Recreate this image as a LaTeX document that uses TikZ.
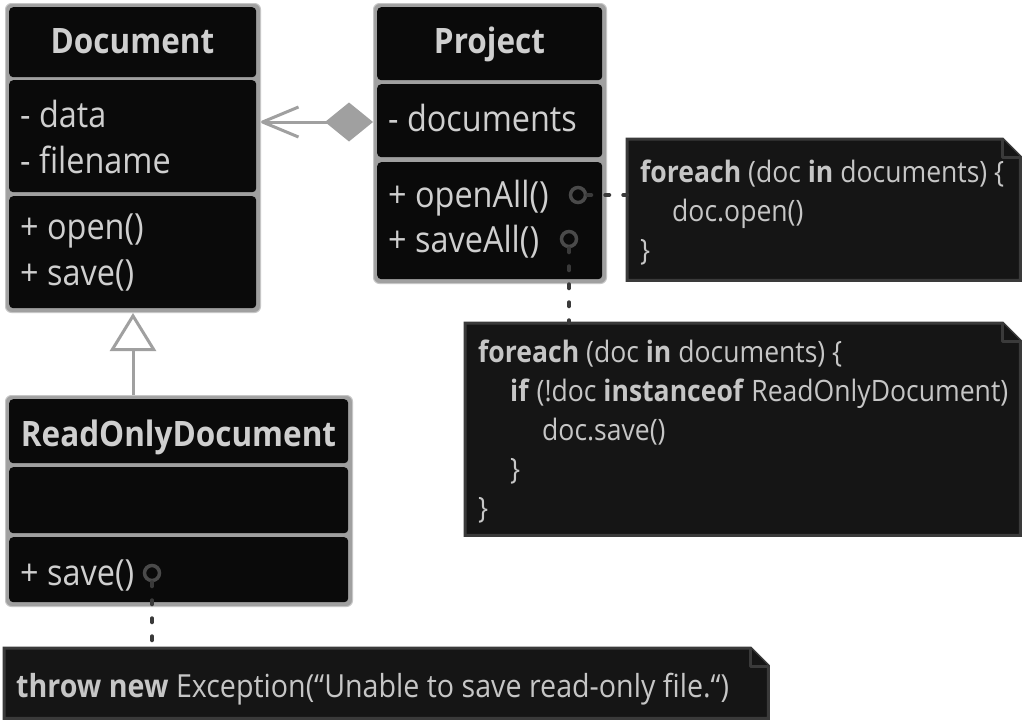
\documentclass[tikz,border=0pt]{standalone}
\usepackage{fontspec}
\setmainfont{Open Sans}[FakeStretch=0.9]
\usetikzlibrary{arrows.meta}
\definecolor{frame}{HTML}{A0A0A0}
\definecolor{comp}{HTML}{0A0A0A}
\definecolor{txt}{HTML}{CFCFCF}
\definecolor{notefill}{HTML}{151515}
\definecolor{noteline}{HTML}{3A3A3A}
\definecolor{notetxt}{HTML}{C6C6C6}
\definecolor{portc}{HTML}{4A4A4A}
\begin{document}
\begin{tikzpicture}[x=1pt,y=-1pt,
  outer/.style={fill=frame, draw=frame!60!white, line width=1pt, rounded corners=6pt, inner sep=0pt, anchor=north west},
  cbox/.style={fill=comp, rounded corners=4pt, inner sep=0pt, anchor=north west},
  ctitle/.style={font=\fontsize{35}{42}\selectfont\bfseries, text=txt, inner sep=0pt, anchor=base},
  member/.style={font=\fontsize{36}{43}\selectfont, text=txt, inner sep=0pt, anchor=base west},
  ntext/.style={font=\fontsize{29.5}{35}\selectfont, text=notetxt, inner sep=0pt, anchor=base west},
  notebox/.style={inner sep=0pt, anchor=north west},
  notepath/.style={fill=notefill, draw=noteline, line width=3pt},
  port/.style={circle, draw=portc, line width=3.5pt, minimum size=15pt, inner sep=0pt},
  dotline/.style={draw=noteline, line width=4pt, line cap=round, dash pattern=on 4pt off 14pt},
  assoc/.style={draw=frame, line width=3pt, {Diamond[length=48pt,width=39pt,fill=frame]}-{Straight Barb[length=36pt,width=30pt,line join=round]}},
  gen/.style={draw=frame, line width=3pt, -{Triangle[length=38pt,width=46pt,fill=white]}}
]
\useasboundingbox (0,0) rectangle (1025,723);
\fill[white] (0,0) rectangle (1025,723);

% ---------- Document ----------
\node[outer, minimum width=255pt, minimum height=309pt] (dout) at (5,3) {};
\node[cbox, minimum width=247pt, minimum height=70pt] (dt) at (9,7) {};
\node[cbox, minimum width=247pt, minimum height=112pt] (da) at (9,80) {};
\node[cbox, minimum width=247pt, minimum height=112pt] (dm) at (9,196) {};
\node[ctitle] (dtt) at (132.5,53) {Document};
\node[member] (da1) at (20,127) {- data};
\node[member] (da2) at (20,173) {- filename};
\node[member] (dm1) at (20,239) {+ open()};
\node[member] (dm2) at (20,285) {+ save()};

% ---------- Project ----------
\node[outer, minimum width=233pt, minimum height=280pt] (pout) at (373,3) {};
\node[cbox, minimum width=225pt, minimum height=73pt] (pt) at (377,7) {};
\node[cbox, minimum width=225pt, minimum height=73pt] (pa) at (377,84) {};
\node[cbox, minimum width=225pt, minimum height=117pt] (pm) at (377,162) {};
\node[ctitle] (ptt) at (489.5,53) {Project};
\node[member] (pa1) at (388,131) {- documents};
\node[member] (pm1) at (388,207) {+ openAll()};
\node[member] (pm2) at (388,252) {+ saveAll()};
\node[port] (po1) at (578,195) {};
\node[port] (po2) at (569,239) {};

% ---------- ReadOnlyDocument ----------
\node[outer, minimum width=347pt, minimum height=211pt] (rout) at (5,395) {};
\node[cbox, minimum width=339pt, minimum height=64pt] (rt) at (9,399) {};
\node[cbox, minimum width=339pt, minimum height=66pt] (ra) at (9,467) {};
\node[cbox, minimum width=339pt, minimum height=65pt] (rm) at (9,537) {};
\node[ctitle] (rtt) at (178.5,446) {ReadOnlyDocument};
\node[member] (rm1) at (20,585) {+ save()};
\node[port] (ro1) at (152,573) {};

% ---------- relations ----------
\draw[assoc] (pout.west |- 0,122) -- (dout.east |- 0,122);
\draw[gen] (dout.south |- rout.north) -- (dout.south);

% ---------- Note 1 ----------
\node[notebox, minimum width=393pt, minimum height=141pt] (n1) at (627,139) {};
\draw[notepath] (n1.north west) -- ([xshift=-18pt]n1.north east) -- ([yshift=-18pt]n1.north east) -- (n1.south east) -- (n1.south west) -- cycle;
\draw[notepath, line join=round] ([xshift=-18pt]n1.north east) -- ([xshift=-18pt,yshift=-18pt]n1.north east) -- ([yshift=-18pt]n1.north east);
\node[ntext] (n1a) at (640,182) {\textbf{foreach} (doc \textbf{in} documents) \{};
\node[ntext] (n1b) at (672,221) {doc.open()};
\node[ntext] (n1c) at (640,260) {\}};

% ---------- Note 2 ----------
\node[notebox, minimum width=555pt, minimum height=212pt] (n2) at (465,323) {};
\draw[notepath] (n2.north west) -- ([xshift=-18pt]n2.north east) -- ([yshift=-18pt]n2.north east) -- (n2.south east) -- (n2.south west) -- cycle;
\draw[notepath, line join=round] ([xshift=-18pt]n2.north east) -- ([xshift=-18pt,yshift=-18pt]n2.north east) -- ([yshift=-18pt]n2.north east);
\node[ntext] (n2a) at (478,362) {\textbf{foreach} (doc \textbf{in} documents) \{};
\node[ntext] (n2b) at (510,401) {\textbf{if} (!doc \textbf{instanceof} ReadOnlyDocument)};
\node[ntext] (n2c) at (542,440) {doc.save()};
\node[ntext] (n2d) at (510,479) {\}};
\node[ntext] (n2e) at (478,518) {\}};

% ---------- Note 3 ----------
\node[notebox, minimum width=764pt, minimum height=70pt] (n3) at (4,648) {};
\draw[notepath] (n3.north west) -- ([xshift=-18pt]n3.north east) -- ([yshift=-18pt]n3.north east) -- (n3.south east) -- (n3.south west) -- cycle;
\draw[notepath, line join=round] ([xshift=-18pt]n3.north east) -- ([xshift=-18pt,yshift=-18pt]n3.north east) -- ([yshift=-18pt]n3.north east);
\node[ntext, font=\fontsize{31.8}{38}\selectfont] (n3a) at (16,697) {\textbf{throw new} Exception(“Unable to save read-only file.“)};

% ---------- note links ----------
\draw[dotline] (po1.east) -- (n1.west |- po1.east);
\draw[dotline] (po2.south) -- (po2.south |- n2.north);
\draw[dotline] (ro1.south) -- (ro1.south |- n3.north);
\end{tikzpicture}
\end{document}
